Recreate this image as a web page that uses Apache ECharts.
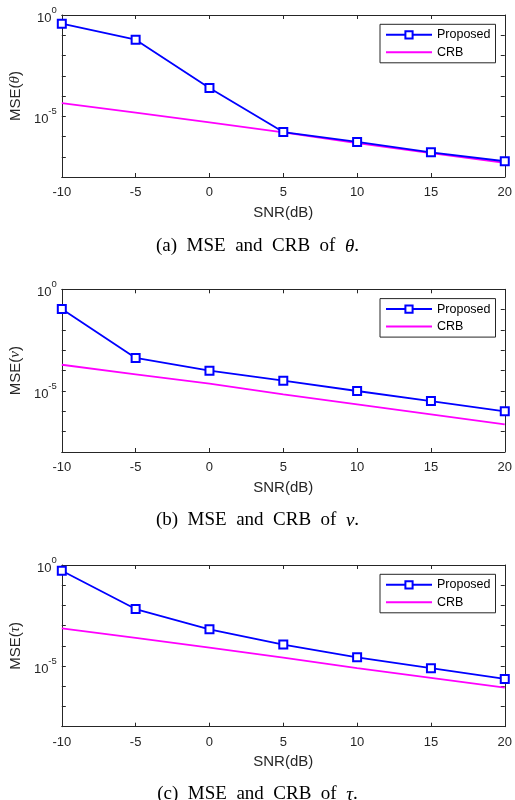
<!DOCTYPE html>
<html><head><meta charset="utf-8">
<script src="https://cdn.jsdelivr.net/npm/echarts@6/dist/echarts.min.js"></script>
<style>html,body{margin:0;padding:0;background:#fff}#c{width:515px;height:800px}</style>
</head><body><div id="c"></div>
<script>
const snr = [-10, -5, 0, 5, 10, 15, 20];
const thetaProposed = [0.37, 0.06, 2.5e-4, 1.66e-6, 5.4e-7, 1.66e-7, 6.0e-8];
const thetaCRB      = [4.5e-5, 1.5e-5, 5.0e-6, 1.6e-6, 4.7e-7, 1.5e-7, 5.0e-8];
const nuProposed    = [0.107, 4.2e-4, 1.0e-4, 3.2e-5, 1.0e-5, 3.2e-6, 1.0e-6];
const nuCRB         = [1.95e-4, 6.6e-5, 2.3e-5, 6.8e-6, 2.2e-6, 7.1e-7, 2.3e-7];
const tauProposed   = [0.52, 6.6e-3, 6.6e-4, 1.15e-4, 2.7e-5, 7.9e-6, 2.3e-6];
const tauCRB        = [7.4e-4, 2.5e-4, 8.1e-5, 2.6e-5, 7.9e-6, 2.6e-6, 8.5e-7];
const xTicks = [-10, -5, 0, 5, 10, 15, 20];
const yLabelExps = [0, -5];
const panels = [
  {sym: 'θ', tag: '(a)', prop: thetaProposed, crb: thetaCRB},
  {sym: 'ν', tag: '(b)', prop: nuProposed, crb: nuCRB},
  {sym: 'τ', tag: '(c)', prop: tauProposed, crb: tauCRB}
];

const AX = '#262626';
const SANS = 'Liberation Sans';
const SERIF = 'Liberation Serif';
const gridTops = [15, 289.3, 565];
const gridH = [162, 162.7, 161.7];
const capY = [237, 511, 785];
const SP = '\u2002';

const grids = [], xAxes = [], yAxes = [], series = [], legends = [], titles = [];
panels.forEach((p, i) => {
  grids.push({left: 59, width: 449, top: gridTops[i], height: gridH[i], show: false});
  const baseX = {
    type: 'value', gridIndex: i, min: -10, max: 20, interval: 5,
    axisLine: {show: true, onZero: false, lineStyle: {color: AX, width: 1}},
    axisTick: {show: true, inside: true, length: 4, lineStyle: {color: AX}},
    splitLine: {show: false}
  };
  xAxes.push(Object.assign({}, baseX, {
    position: 'bottom',
    axisLabel: {show: true, color: AX, fontFamily: SANS, fontSize: 13, margin: 9,
      formatter: v => xTicks.includes(v) ? String(v) : ''},
    name: 'SNR(dB)', nameLocation: 'middle', nameGap: 28,
    nameTextStyle: {color: AX, fontFamily: SANS, fontSize: 15}
  }));
  xAxes.push(Object.assign({}, baseX, {position: 'top', axisLabel: {show: false}}));
  const baseY = {
    type: 'log', logBase: 10, gridIndex: i, min: 1e-8, max: 1, interval: 1,
    axisLine: {show: true, onZero: false, lineStyle: {color: AX, width: 1}},
    axisTick: {show: true, inside: true, length: 4, lineStyle: {color: AX}},
    minorTick: {show: false},
    splitLine: {show: false}
  };
  yAxes.push(Object.assign({}, baseY, {
    position: 'left',
    axisLabel: {show: true, color: AX, fontFamily: SANS, margin: 5,
      formatter: v => {
        const e = Math.round(Math.log10(v));
        return yLabelExps.includes(e) ? '{b|10}{s|' + e + '}' : '';
      },
      rich: {
        b: {fontFamily: SANS, fontSize: 13, color: AX, verticalAlign: 'bottom', lineHeight: 20, padding: [11, 0, 0, 0]},
        s: {fontFamily: SANS, fontSize: 9.5, color: AX, verticalAlign: 'top', lineHeight: 20, padding: [0, 0, 5, 0]}
      }
    },
    name: 'MSE({i|' + p.sym + '})', nameLocation: 'middle', nameGap: 34, nameRotate: 90,
    nameTextStyle: {color: AX, fontFamily: SANS, fontSize: 15,
      rich: {i: {fontFamily: SERIF, fontStyle: 'italic', fontSize: 15, color: AX}}}
  }));
  yAxes.push(Object.assign({}, baseY, {position: 'right', axisLabel: {show: false}}));
  series.push({
    name: 'Proposed', type: 'line', xAxisIndex: 2 * i, yAxisIndex: 2 * i,
    data: snr.map((x, k) => [x, p.prop[k]]),
    symbol: 'emptyRect', symbolSize: 8, showAllSymbol: true,
    lineStyle: {color: '#0000FF', width: 1.8},
    itemStyle: {color: '#0000FF', borderColor: '#0000FF', borderWidth: 1.6},
    z: 3, animation: false
  });
  series.push({
    name: 'CRB', type: 'line', xAxisIndex: 2 * i, yAxisIndex: 2 * i,
    data: snr.map((x, k) => [x, p.crb[k]]),
    symbol: 'none', showSymbol: false,
    lineStyle: {color: '#FF00FF', width: 1.8},
    itemStyle: {color: '#FF00FF'},
    z: 2, animation: false
  });
  legends.push({
    data: [
      {name: 'Proposed'},
      {name: 'CRB', itemStyle: {opacity: 0, color: 'transparent', borderWidth: 0}}
    ],
    orient: 'vertical', left: 380, top: gridTops[i] + 9.3,
    backgroundColor: '#fff', borderColor: AX, borderWidth: 1, borderRadius: 0,
    padding: [4, 5, 4, 5], itemWidth: 46, itemHeight: 9, itemGap: 4.5,
    textStyle: {fontFamily: SANS, fontSize: 12.5, color: '#000'},
    selectedMode: false
  });
  titles.push({
    text: p.tag + SP + 'MSE' + SP + 'and' + SP + 'CRB' + SP + 'of' + SP + '{i|' + p.sym + '}.',
    left: 'center', top: capY[i], padding: 0,
    textStyle: {fontFamily: SERIF, fontSize: 19, fontWeight: 'normal', color: '#000',
      rich: {i: {fontFamily: SERIF, fontStyle: 'italic', fontSize: 19, color: '#000'}}}
  });
});

const chart = echarts.init(document.getElementById('c'), null, {renderer: 'canvas'});
chart.setOption({
  animation: false,
  backgroundColor: '#fff',
  title: titles, grid: grids, xAxis: xAxes, yAxis: yAxes, legend: legends, series: series
});
</script></body></html>
